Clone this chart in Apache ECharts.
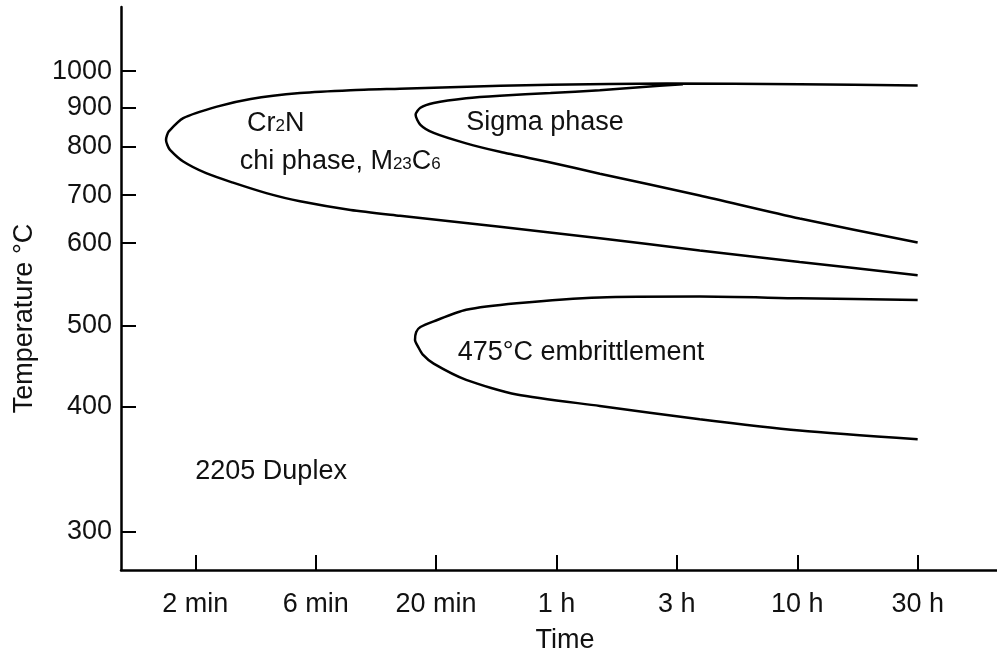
<!DOCTYPE html>
<html>
<head>
    <meta charset="utf-8">
    <title>2205 Duplex</title>
    <script src="https://cdn.jsdelivr.net/npm/echarts@6.0.0/dist/echarts.min.js"></script>
    <style>
        html, body { margin: 0; padding: 0; background: #fff; }
    </style>
</head>
<body>
    <div id="chart" style="width: 997px;height: 653px;"></div>
</body>

<script>
    // time axis: positions on the printed log-time ruler, 0 = 2 min ... 6 = 30 h
    var timeLabels = ['2 min', '6 min', '20 min', '1 h', '3 h', '10 h', '30 h'];
    // temperature axis is not linear in the original; tempScale says where each tick sits (0 = 300, 100 = 1000)
    var tempTicks = [300, 400, 500, 600, 700, 800, 900, 1000];
    var tempScale = [0, 27.18, 44.82, 62.69, 73.10, 83.64, 92.04, 100];

    // C-curves as [time position, temperature in °C]
    var chiCurve = [
        [6.0, 961], [5.02, 964], [3.92, 966], [2.95, 963], [2.12, 956], [1.70, 952],
        [1.29, 948], [0.87, 940], [0.46, 924], [0.18, 903], [-0.10, 873], [-0.22, 839],
        [-0.236, 828], [-0.243, 817], [-0.232, 804], [-0.21, 793], [-0.10, 769], [0.09, 745],
        [0.32, 725], [0.59, 704], [0.87, 687], [1.29, 669], [1.70, 657], [2.53, 634],
        [3.36, 610], [4.19, 591], [5.02, 577], [6.0, 561]
    ];
    var sigmaCurve = [
        [4.05, 964], [3.69, 956], [3.36, 948], [2.95, 940], [2.53, 933], [2.25, 926],
        [1.98, 913], [1.87, 900], [1.83, 882], [1.87, 856], [1.98, 835], [2.25, 808],
        [2.53, 789], [2.95, 767], [3.36, 744], [4.19, 699], [5.02, 651], [6.0, 601]
    ];
    var embrittleCurve = [
        [6.0, 531], [5.02, 533], [4.19, 535], [3.36, 534], [2.67, 527], [2.25, 519],
        [1.98, 505], [1.87, 498], [1.835, 492], [1.825, 482], [1.85, 474], [1.89, 464],
        [1.98, 453], [2.25, 433], [2.67, 415], [3.36, 401], [4.19, 390], [5.02, 381],
        [6.0, 374]
    ];

    // region labels: [time position, temperature, text]
    var notes = [
        [0.43, 860, 'Cr{s|2}N'],
        [0.37, 769, 'chi phase, M{s|23}C{s|6}'],
        [2.25, 862, 'Sigma phase'],
        [2.18, 467, '475°C embrittlement'],
        [0.0, 348, '2205 Duplex']
    ];

    function tempToU(t) {
        for (var i = 1; i < tempTicks.length; i++) {
            if (t <= tempTicks[i] || i == tempTicks.length - 1) {
                var f = (t - tempTicks[i - 1]) / (tempTicks[i] - tempTicks[i - 1]);
                return tempScale[i - 1] + f * (tempScale[i] - tempScale[i - 1]);
            }
        }
    }
    function toPoints(curve) {
        return curve.map(function (p) { return [p[0], tempToU(p[1])]; });
    }

    var font = '"Liberation Sans", Arial, sans-serif';
    var ink = '#111';
    var lineStyle = { color: '#000', width: 2.5 };

    function curveSeries(name, curve) {
        return {
            name: name,
            type: 'line',
            data: toPoints(curve),
            symbol: 'none',
            smooth: 0.25,
            lineStyle: lineStyle,
            silent: true
        };
    }

    var option = {
        animation: false,
        textStyle: { fontFamily: font, color: ink },
        grid: { left: 121, right: 0, top: 7, bottom: 83, outerBoundsMode: 'none', containLabel: false },
        xAxis: {
            type: 'value',
            min: -0.617,
            max: 6.659,
            name: 'Time',
            nameLocation: 'middle',
            nameGap: 57,
            nameTextStyle: { fontSize: 27, color: ink, fontFamily: font, padding: [0, 0, 0, 12] },
            axisLine: { onZero: false, lineStyle: { color: '#000', width: 2.5 } },
            axisTick: {
                inside: true, length: 15,
                customValues: [0, 1, 2, 3, 4, 5, 6],
                lineStyle: { color: '#000', width: 2 }
            },
            axisLabel: {
                customValues: [0, 1, 2, 3, 4, 5, 6],
                margin: 21,
                fontSize: 27,
                color: ink,
                fontFamily: font,
                formatter: function (v) { return timeLabels[Math.round(v)]; }
            },
            splitLine: { show: false }
        },
        yAxis: {
            type: 'value',
            min: -8.24,
            max: 113.9,
            name: 'Temperature °C',
            nameLocation: 'middle',
            nameRotate: 90,
            nameGap: 83,
            nameTextStyle: { fontSize: 27, color: ink, fontFamily: font, padding: [0, 60, 0, 0] },
            axisLine: { onZero: false, lineStyle: { color: '#000', width: 2.5 } },
            axisTick: {
                inside: true, length: 15,
                customValues: tempTicks.map(tempToU),
                lineStyle: { color: '#000', width: 2 }
            },
            axisLabel: {
                customValues: tempTicks.map(tempToU),
                margin: 9,
                fontSize: 27,
                color: ink,
                fontFamily: font,
                formatter: function (v) {
                    var best = 0;
                    tempScale.forEach(function (s, i) {
                        if (Math.abs(s - v) < Math.abs(tempScale[best] - v)) best = i;
                    });
                    return String(tempTicks[best]);
                }
            },
            splitLine: { show: false }
        },
        series: [
            curveSeries('chi', chiCurve),
            curveSeries('sigma', sigmaCurve),
            curveSeries('475', embrittleCurve),
            {
                name: 'notes',
                type: 'scatter',
                symbolSize: 0,
                silent: true,
                itemStyle: { opacity: 1 },
                data: notes.map(function (n) {
                    return { value: [n[0], tempToU(n[1])], label: { formatter: n[2] } };
                }),
                label: {
                    show: true,
                    position: 'right',
                    distance: 0,
                    fontSize: 27,
                    color: ink,
                    opacity: 1,
                    fontFamily: font,
                    rich: {
                        s: { fontSize: 17, color: ink, fontFamily: font, verticalAlign: 'bottom', padding: [0, 0, 2, 0] }
                    }
                }
            }
        ]
    };

    var chart = echarts.init(document.getElementById('chart'));
    chart.setOption(option);
</script>
</html>
